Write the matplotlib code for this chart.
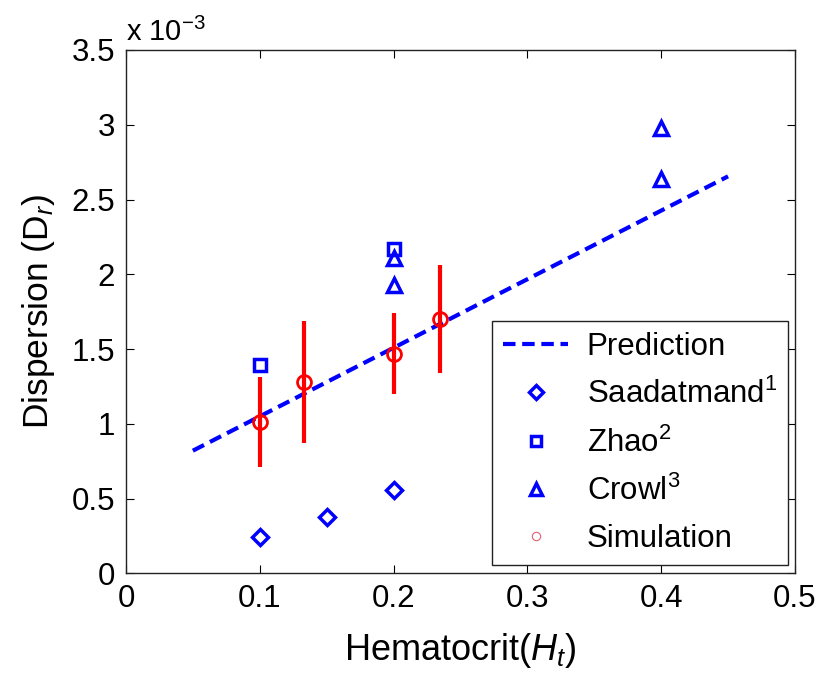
import matplotlib
matplotlib.use("Agg")
import matplotlib.pyplot as plt
from matplotlib.lines import Line2D

plt.rcParams['font.family'] = ['Liberation Sans', 'DejaVu Sans']
plt.rcParams['mathtext.fontset'] = 'custom'
plt.rcParams['mathtext.rm'] = 'Liberation Sans'
plt.rcParams['mathtext.it'] = 'Liberation Sans:italic'

# Dispersion values in units of 1e-3
pred_x = [0.05, 0.45]
pred_y = [0.82, 2.655]

saad_x = [0.10, 0.15, 0.20]
saad_y = [0.244, 0.377, 0.56]

zhao_x = [0.10, 0.20]
zhao_y = [1.39, 2.17]

crowl_x = [0.20, 0.20, 0.40, 0.40]
crowl_y = [2.11, 1.93, 2.98, 2.64]

sim_x = [0.10, 0.133, 0.20, 0.235]
sim_y = [1.01, 1.28, 1.47, 1.70]
sim_err = [0.30, 0.41, 0.27, 0.36]

xticks = [0, 0.1, 0.2, 0.3, 0.4, 0.5]
xtick_labels = ['0', '0.1', '0.2', '0.3', '0.4', '0.5']
yticks = [0, 0.5, 1, 1.5, 2, 2.5, 3, 3.5]
ytick_labels = ['0', '0.5', '1', '1.5', '2', '2.5', '3', '3.5']

fig = plt.figure(figsize=(8.17, 6.82), dpi=100)
ax = fig.add_axes([0.1542, 0.1594, 0.8188, 0.7673])

blue = '#0000ff'
red = '#ff0000'

ax.plot(pred_x, pred_y, '--', color=blue, lw=3, dashes=(3, 1.6), zorder=3)
ax.errorbar(sim_x, sim_y, yerr=sim_err, fmt='o', color=red, ecolor=red,
            elinewidth=3, capsize=0, markersize=10, markerfacecolor='none',
            markeredgewidth=2, zorder=4)
ax.plot(saad_x, saad_y, 'D', color=blue, markersize=8, markerfacecolor='none',
        markeredgewidth=2.5, linestyle='none', zorder=5)
ax.plot(zhao_x, zhao_y, 's', color=blue, markersize=9, markerfacecolor='none',
        markeredgewidth=2.5, linestyle='none', zorder=5)
ax.plot(crowl_x, crowl_y, '^', color=blue, markersize=10, markerfacecolor='none',
        markeredgewidth=2.5, linestyle='none', zorder=5)

ax.set_xlim(0, 0.5)
ax.set_ylim(0, 3.5)
ax.set_xticks(xticks)
ax.set_xticklabels(xtick_labels)
ax.set_yticks(yticks)
ax.set_yticklabels(ytick_labels)
ax.tick_params(direction='in', length=6, width=0.8, top=True, right=True,
               labelsize=22.5, pad=8)
for s in ax.spines.values():
    s.set_linewidth(1.0)
    s.set_color('#222222')

ax.set_xlabel('Hematocrit($H_t$)', fontsize=26, labelpad=12)
ax.set_ylabel('Dispersion (D$_r$)', fontsize=25.5, labelpad=10)

ax.text(0.0, 1.005, r'x 10$^{-3}$', transform=ax.transAxes, fontsize=21,
        ha='left', va='bottom')

handles = [
    Line2D([], [], color=blue, lw=3, linestyle='--', dashes=(3, 1.6)),
    Line2D([], [], color=blue, marker='D', markersize=7, markerfacecolor='none',
           markeredgewidth=2.5, linestyle='none'),
    Line2D([], [], color=blue, marker='s', markersize=7, markerfacecolor='none',
           markeredgewidth=2.5, linestyle='none'),
    Line2D([], [], color=blue, marker='^', markersize=8, markerfacecolor='none',
           markeredgewidth=2.5, linestyle='none'),
    Line2D([], [], color='#e06070', marker='o', markersize=6, markerfacecolor='none',
           markeredgewidth=0.8, linestyle='none'),
]
labels = ['Prediction', 'Saadatmand$^1$', 'Zhao$^2$', 'Crowl$^3$', 'Simulation']
leg = ax.legend(handles, labels, loc='lower right', bbox_to_anchor=(0.99, 0.016),
                borderaxespad=0, fontsize=22.5, frameon=True, fancybox=False,
                edgecolor='#222222', framealpha=1, handlelength=2.08,
                handletextpad=0.6, labelspacing=0.545, borderpad=0.35)
leg.get_frame().set_linewidth(1.0)

fig.savefig('out.png', dpi=100)
